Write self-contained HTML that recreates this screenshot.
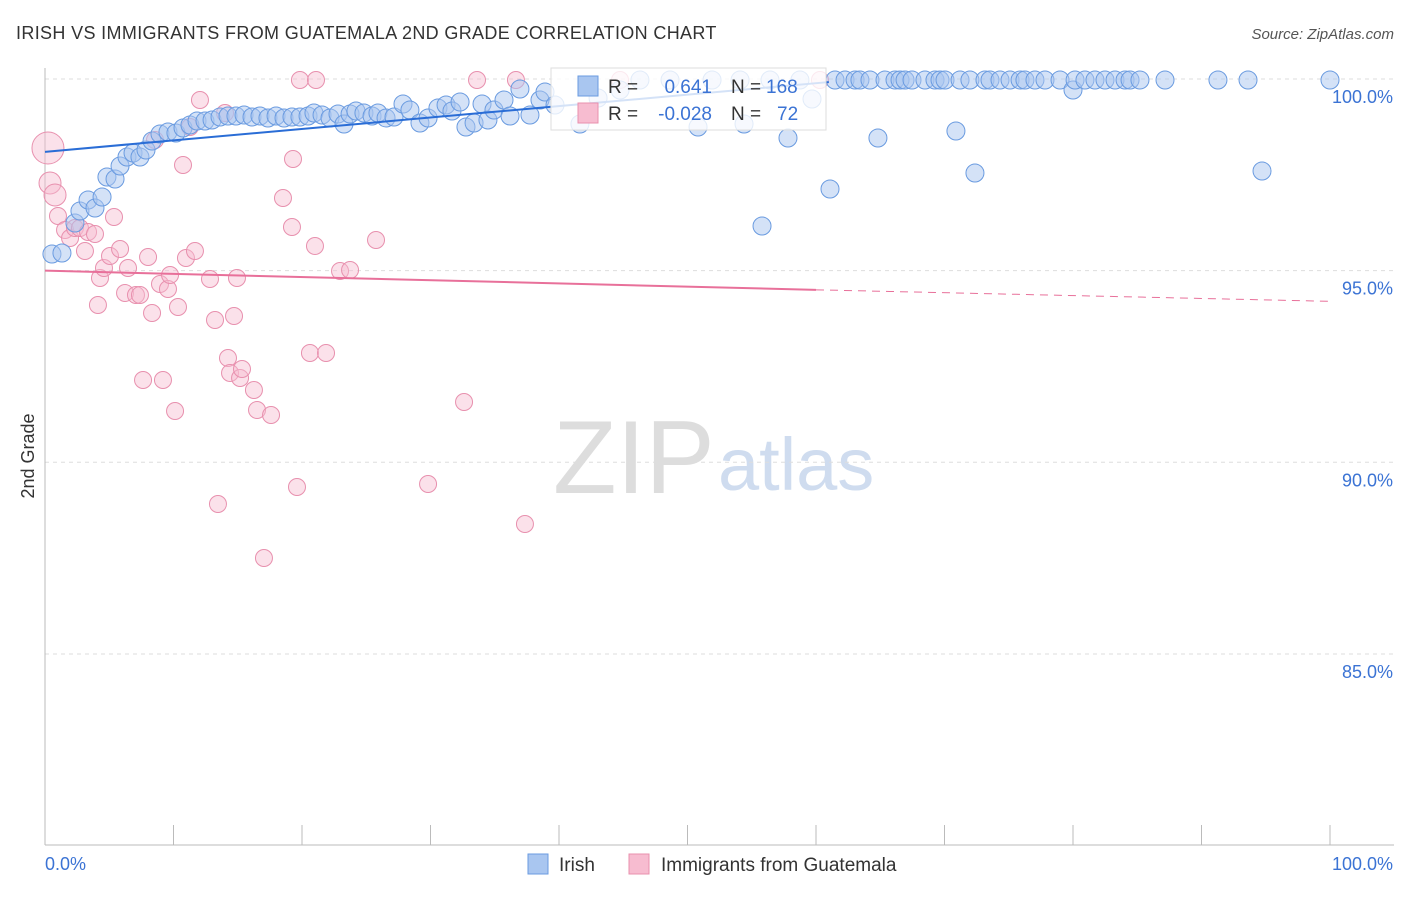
<!DOCTYPE html>
<html><head><meta charset="utf-8"><style>
body{margin:0;background:#fff;font-family:"Liberation Sans",sans-serif}
svg text{font-family:"Liberation Sans",sans-serif}
</style></head><body>
<svg width="1406" height="892" xmlns="http://www.w3.org/2000/svg">
<text x="16" y="39" font-size="18" fill="#333" letter-spacing="0.35">IRISH VS IMMIGRANTS FROM GUATEMALA 2ND GRADE CORRELATION CHART</text>
<text x="1394" y="39" font-size="15" fill="#555" text-anchor="end" font-style="italic">Source: ZipAtlas.com</text>
<text x="0" y="0" transform="translate(34,456) rotate(-90)" font-size="18" fill="#333" text-anchor="middle">2nd Grade</text>
<text x="553" y="493" font-size="104" fill="#ddd" font-family="Liberation Serif">ZIP</text>
<text x="718" y="490" font-size="74" fill="#cfdcef">atlas</text>
<g id="grid"></g>
<g id="axes"></g>
<g id="pink"></g>
<g id="blue"></g>
<g id="lines"></g>
<g>
<rect x="551" y="68" width="275" height="62" fill="#fff" fill-opacity="0.8" stroke="#ddd"/>
<rect x="578" y="76" width="20" height="20" fill="#a9c6f0" stroke="#6a9be0"/>
<text x="608" y="93" font-size="19" fill="#333">R =</text>
<text x="712" y="93" font-size="19" fill="#3b73d4" text-anchor="end">0.641</text>
<text x="731" y="93" font-size="19" fill="#333">N =</text>
<text x="766" y="93" font-size="19" fill="#3b73d4">168</text>
<rect x="578" y="103" width="20" height="20" fill="#f7bcd0" stroke="#e890ae"/>
<text x="608" y="120" font-size="19" fill="#333">R =</text>
<text x="712" y="120" font-size="19" fill="#3b73d4" text-anchor="end">-0.028</text>
<text x="731" y="120" font-size="19" fill="#333">N =</text>
<text x="777" y="120" font-size="19" fill="#3b73d4">72</text>
</g>
<g>
<rect x="528" y="854" width="20" height="20" fill="#a9c6f0" stroke="#6a9be0"/>
<text x="559" y="871" font-size="19" fill="#333">Irish</text>
<rect x="629" y="854" width="20" height="20" fill="#f7bcd0" stroke="#e890ae"/>
<text x="661" y="871" font-size="19" fill="#333">Immigrants from Guatemala</text>
</g>
</svg>
<script>
const yTicks=[100,95,90,85];
const yTickLabels=["100.0%","95.0%","90.0%","85.0%"];
const xTicks=[0,10,20,30,40,50,60,70,80,90,100];
const bluePx=[[52,254],[62,253],[75,223],[80,211],[88,200],[95,208],[102,197],[107,177],[115,179],[120,166],[127,157],[133,153],[140,157],[146,150],[152,141],[160,134],[168,132],[176,133],[183,128],[190,125],[197,121],[205,121],[212,120],[220,117],[228,116],[236,116],[244,115],[252,117],[260,116],[268,118],[276,116],[284,118],[292,117],[300,117],[308,116],[314,113],[322,115],[330,118],[338,114],[344,124],[350,114],[356,111],[364,113],[372,116],[378,113],[386,118],[394,117],[403,104],[410,110],[420,123],[428,118],[438,108],[446,105],[452,111],[460,102],[466,127],[474,123],[482,104],[488,120],[494,110],[504,100],[510,116],[520,89],[530,115],[540,100],[545,92],[555,105],[580,124],[598,98],[620,90],[640,80],[670,80],[698,127],[712,80],[740,80],[744,124],[762,226],[770,80],[788,138],[800,80],[812,99],[830,189],[835,80],[845,80],[855,80],[860,80],[870,80],[878,138],[885,80],[895,80],[900,80],[905,80],[912,80],[925,80],[935,80],[940,80],[945,80],[956,131],[960,80],[970,80],[975,173],[985,80],[990,80],[1000,80],[1010,80],[1020,80],[1025,80],[1035,80],[1045,80],[1060,80],[1073,90],[1075,80],[1085,80],[1095,80],[1105,80],[1115,80],[1125,80],[1130,80],[1140,80],[1165,80],[1218,80],[1248,80],[1262,171],[1330,80]];
const pinkPx=[[48,148],[50,183],[55,195],[58,216],[65,230],[70,238],[75,228],[80,228],[88,232],[95,234],[85,251],[98,305],[100,278],[104,268],[110,256],[114,217],[120,249],[125,293],[128,268],[136,295],[140,295],[143,380],[148,257],[152,313],[155,140],[160,284],[163,380],[168,289],[170,275],[175,411],[178,307],[183,165],[186,258],[190,127],[195,251],[200,100],[210,279],[215,320],[218,504],[225,113],[228,358],[230,373],[234,316],[237,278],[240,378],[242,369],[254,390],[257,410],[264,558],[271,415],[283,198],[292,227],[293,159],[297,487],[300,80],[310,353],[316,80],[315,246],[326,353],[340,271],[350,270],[376,240],[428,484],[464,402],[477,80],[516,80],[525,524],[620,80],[820,80]];
const X0=45,X1=1330,Y100=79,PER=38.33;
const blueX=bluePx.map(p=>+((p[0]-X0)/(X1-X0)*100).toFixed(2));
const blueY=bluePx.map(p=>+(100-(p[1]-Y100)/PER).toFixed(3));
const pinkX=pinkPx.map(p=>+((p[0]-X0)/(X1-X0)*100).toFixed(2));
const pinkY=pinkPx.map(p=>+(100-(p[1]-Y100)/PER).toFixed(3));
const blueTrend=[[0,98.1],[61,99.92]];
const pinkTrend=[[0,95.0],[60,94.5],[100,94.2]];
const sx=v=>X0+v/100*(X1-X0), sy=v=>Y100+(100-v)*PER;
const NS="http://www.w3.org/2000/svg";
function mk(t,a,parent){const e=document.createElementNS(NS,t);for(const k in a)e.setAttribute(k,a[k]);document.getElementById(parent).appendChild(e);return e;}
yTicks.forEach((v,i)=>{
 const l=mk('line',{x1:45,x2:1394,y1:sy(v),y2:sy(v),stroke:'#ddd','stroke-dasharray':'4,4'},'grid');
 
 
 const t=mk('text',{x:1393,y:sy(v)+24,'font-size':18,fill:'#3b73d4','text-anchor':'end'},'axes');
 t.textContent=yTickLabels[i];
 
 
});
const ax=mk('line',{x1:45,x2:1394,y1:845,y2:845,stroke:'#bbb'},'axes');


const ay=mk('line',{x1:45,x2:45,y1:68,y2:845,stroke:'#bbb'},'axes');


xTicks.forEach(v=>{
 const t=mk('line',{x1:sx(v),x2:sx(v),y1:825,y2:845,stroke:'#bbb'},'axes');
 
 
});
[[0,"0.0%","start",45],[100,"100.0%","end",1393]].forEach(a=>{
 const t=mk('text',{x:a[3],y:870,'font-size':18,fill:'#3b73d4','text-anchor':a[2]},'axes');
 t.textContent=a[1];
 
 
});
pinkX.forEach((x,i)=>{
 const r=i==0?16:(i<3?11:8.5);
 const c=mk('circle',{cx:sx(x),cy:sy(pinkY[i]),r:r,fill:'#f7bcd0','fill-opacity':0.45,stroke:'#e890ae','stroke-width':1},'pink');
 
 
});
blueX.forEach((x,i)=>{
 const c=mk('circle',{cx:sx(x),cy:sy(blueY[i]),r:9,fill:'#a9c6f0','fill-opacity':0.5,stroke:'#6a9be0','stroke-width':1},'blue');
 
 
});
const bl=mk('line',{x1:sx(blueTrend[0][0]),y1:sy(blueTrend[0][1]),x2:sx(blueTrend[1][0]),y2:sy(blueTrend[1][1]),stroke:'#2a6dd6','stroke-width':2},'lines');


const pl=mk('line',{x1:sx(pinkTrend[0][0]),y1:sy(pinkTrend[0][1]),x2:sx(pinkTrend[1][0]),y2:sy(pinkTrend[1][1]),stroke:'#e8709a','stroke-width':2},'lines');


const pd=mk('line',{x1:sx(pinkTrend[1][0]),y1:sy(pinkTrend[1][1]),x2:sx(pinkTrend[2][0]),y2:sy(pinkTrend[2][1]),stroke:'#e8709a','stroke-width':1,'stroke-dasharray':'8,6'},'lines');


</script>
</body></html>
